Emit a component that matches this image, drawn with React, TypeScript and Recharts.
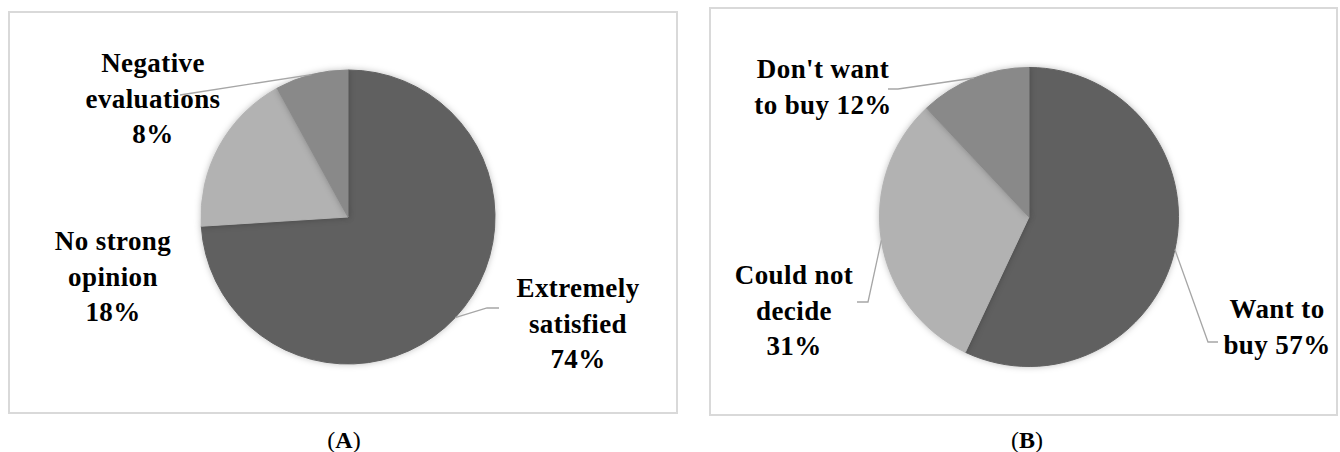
import React from 'react';
import { PieChart, Pie, Cell } from 'recharts';

// (A) satisfaction survey
const satisfactionNames = ['Extremely\nsatisfied', 'No strong\nopinion', 'Negative\nevaluations'];
const satisfactionValues = [74, 18, 8];

// (B) purchase intention
const purchaseNames = ['Want to\nbuy', 'Could not\ndecide', "Don't want\nto buy"];
const purchaseValues = [57, 31, 12];

const sliceColors = ['#606060', '#b2b2b2', '#898989'];

const FONT = '"Liberation Serif", "Times New Roman", serif';
const LINE_H = 35.5;

interface LabelPlace {
  dx: number; // label centre, relative to pie centre
  dy: number; // first baseline, relative to pie centre
  pctInline: boolean;
  leader?: [number, number][]; // elbow points relative to pie centre
}

const placesA: LabelPlace[] = [
  { dx: 230, dy: 80, pctInline: false, leader: [[139, 91], [151, 91]] },
  { dx: -235, dy: 33, pctInline: false },
  { dx: -195, dy: -145, pctInline: false, leader: [[-168, -122]] },
];

const placesB: LabelPlace[] = [
  { dx: 248, dy: 101, pctInline: true, leader: [[179, 125], [189, 125]] },
  { dx: -235, dy: 67, pctInline: false, leader: [[-161, 85], [-172, 85]] },
  { dx: -206, dy: -139, pctInline: true, leader: [[-131, -128], [-141, -128]] },
];

const makeLabel = (places: LabelPlace[]) => (props: any) => {
  const { cx, cy, midAngle, outerRadius, index, value, name } = props;
  const RAD = Math.PI / 180;
  const sx = cx + outerRadius * Math.cos(-midAngle * RAD);
  const sy = cy + outerRadius * Math.sin(-midAngle * RAD);
  const p = places[index];
  const lines: string[] = String(name).split('\n');
  if (p.pctInline) lines[lines.length - 1] += ` ${value}%`;
  else lines.push(`${value}%`);
  const pts = p.leader ? [[sx, sy], ...p.leader.map(([x, y]) => [cx + x, cy + y])] : null;
  return (
    <g key={`lbl-${index}`}>
      {pts && (
        <polyline
          points={pts.map((q) => q.join(',')).join(' ')}
          fill="none"
          stroke="#a6a6a6"
          strokeWidth={1.3}
        />
      )}
      <text
        x={cx + p.dx}
        y={cy + p.dy}
        textAnchor="middle"
        fill="#000"
        style={{ fontFamily: FONT, fontWeight: 700, fontSize: 27, letterSpacing: 0.4 }}
      >
        {lines.map((ln, i) => (
          <tspan key={i} x={cx + p.dx} dy={i === 0 ? 0 : LINE_H}>
            {ln}
          </tspan>
        ))}
      </text>
    </g>
  );
};

interface PanelProps {
  names: string[];
  values: number[];
  places: LabelPlace[];
  left: number;
  top: number;
  width: number;
  height: number;
  cx: number;
  cy: number;
  radius: number;
  caption: string;
  captionX: number;
}

const Panel: React.FC<PanelProps> = ({ names, values, places, left, top, width, height, cx, cy, radius, caption, captionX }) => {
  const data = names.map((name, i) => ({ name, value: values[i] }));
  return (
    <>
      <div
        style={{
          position: 'absolute',
          left,
          top,
          width,
          height,
          boxSizing: 'border-box',
          border: '2px solid #d9d9d9',
          background: '#fff',
        }}
      >
        <PieChart width={width - 4} height={height - 4}>
          <Pie
            data={data}
            dataKey="value"
            nameKey="name"
            cx={cx}
            cy={cy}
            outerRadius={radius}
            startAngle={90}
            endAngle={-270}
            isAnimationActive={false}
            labelLine={false}
            label={makeLabel(places)}
            style={{ filter: 'drop-shadow(0px 0px 3px rgba(0,0,0,0.25))' }}
          >
            {data.map((d, i) => (
              <Cell key={d.name} fill={sliceColors[i]} stroke={sliceColors[i]} />
            ))}
          </Pie>
        </PieChart>
      </div>
      <div
        style={{
          position: 'absolute',
          left: captionX - 40,
          top: 426,
          width: 80,
          textAlign: 'center',
          fontFamily: FONT,
          fontSize: 24,
          lineHeight: '28px',
          color: '#000',
        }}
      >
        (<b>{caption}</b>)
      </div>
    </>
  );
};

export default function App() {
  return (
    <div style={{ position: 'absolute', left: 0, top: 0, width: 1340, height: 452, background: '#fff', overflow: 'hidden' }}>
      <Panel
        names={satisfactionNames}
        values={satisfactionValues}
        places={placesA}
        left={8}
        top={11}
        width={670}
        height={403}
        cx={333}
        cy={199}
        radius={147}
        caption="A"
        captionX={344}
      />
      <Panel
        names={purchaseNames}
        values={purchaseValues}
        places={placesB}
        left={709}
        top={7}
        width={629}
        height={409}
        cx={313}
        cy={203}
        radius={149.5}
        caption="B"
        captionX={1027}
      />
    </div>
  );
}
